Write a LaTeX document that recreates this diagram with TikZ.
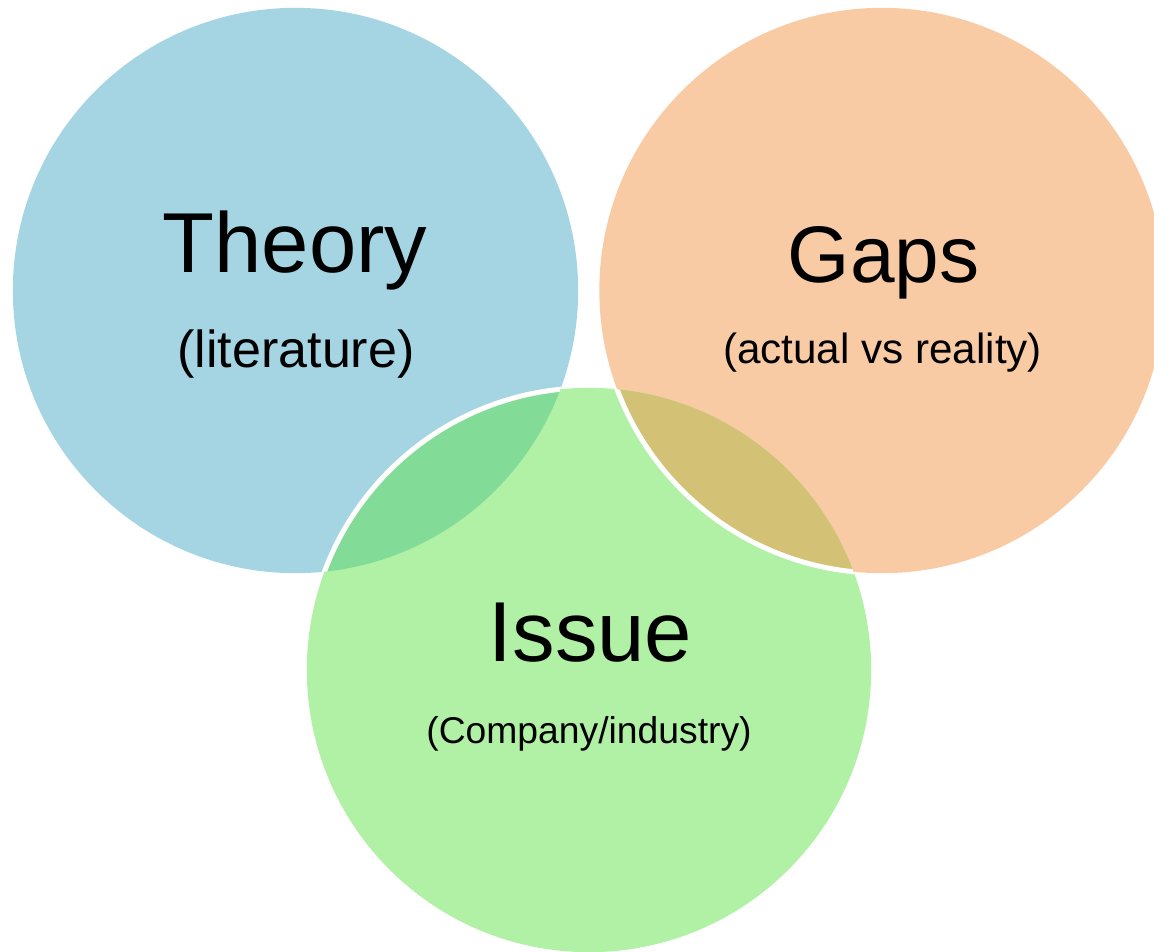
\documentclass[tikz,border=0pt]{standalone}
\usepackage{fontspec}
\setmainfont{Liberation Sans}
\definecolor{theoryblue}{HTML}{A5D5E3}
\definecolor{gapspeach}{HTML}{F9CBA4}
\definecolor{issuegreen}{HTML}{B1F1A5}
\definecolor{lensgreen}{HTML}{82DB96}
\definecolor{lensolive}{HTML}{D3C275}
\tikzset{
  bigtitle/.style={anchor=base, inner sep=0pt, font=\fontsize{24.2pt}{29pt}\selectfont},
  subtitle/.style={anchor=base, inner sep=0pt},
  whiteedge/.style={draw=white, line width=0.05cm}
}
\begin{document}
\begin{tikzpicture}[x=0.01cm, y=-0.01cm]
\clip (0,0) rectangle (1154,951);
\fill[white] (0,0) rectangle (1154,951);
\coordinate (T) at (295.5,290.5);
\coordinate (G) at (882,290.5);
\coordinate (I) at (589,670);
% base circles
\fill[theoryblue] (T) circle[radius=2.825cm];
\fill[gapspeach] (G) circle[radius=2.825cm];
\fill[issuegreen] (I) circle[radius=2.82cm];
% overlaps
\begin{scope}
  \clip (T) circle[radius=2.825cm];
  \fill[lensgreen] (I) circle[radius=2.82cm];
\end{scope}
\begin{scope}
  \clip (G) circle[radius=2.825cm];
  \fill[lensolive] (I) circle[radius=2.82cm];
\end{scope}
% white edges
\begin{scope}
  \clip (T) circle[radius=2.825cm];
  \draw[whiteedge] (I) circle[radius=2.82cm];
\end{scope}
\begin{scope}
  \clip (I) circle[radius=2.82cm];
  \draw[whiteedge] (G) circle[radius=2.825cm];
\end{scope}
% texts
\node[bigtitle] (theory) at (295,272) {Theory};
\node[subtitle, font=\fontsize{14.8pt}{18pt}\selectfont] (lit) at (296,367) {(literature)};
\node[bigtitle, font=\fontsize{22.8pt}{27pt}\selectfont] (gaps) at (883.5,282) {Gaps};
\node[subtitle, font=\fontsize{12pt}{14pt}\selectfont] (avr) at (882.5,363) {(actual vs reality)};
\node[bigtitle] (issue) at (590.5,661) {Issue};
\node[subtitle, font=\fontsize{10.6pt}{13pt}\selectfont] (comp) at (589,743) {(Company/industry)};
\end{tikzpicture}
\end{document}
